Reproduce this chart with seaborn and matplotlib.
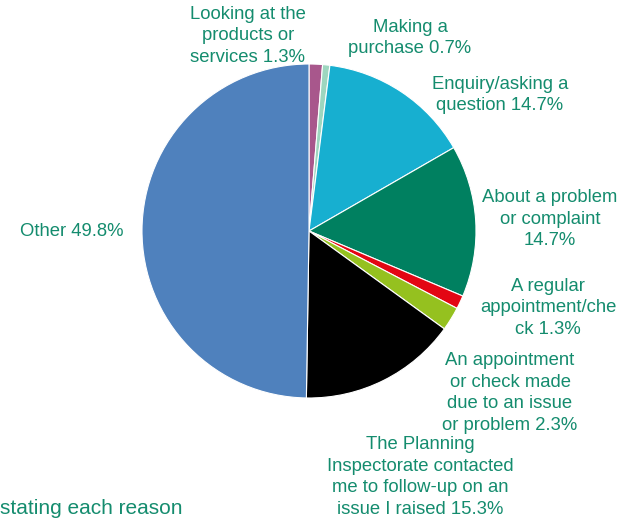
import matplotlib
matplotlib.use("Agg")
import matplotlib.pyplot as plt
import seaborn as sns

# Reasons for contact and share of respondents
labels = [
    "Looking at the\nproducts or\nservices 1.3%",
    "Making a\npurchase 0.7%",
    "Enquiry/asking a\nquestion 14.7%",
    "About a problem\nor complaint\n14.7%",
    "A regular\nappointment/che\nck 1.3%",
    "An appointment\nor check made\ndue to an issue\nor problem 2.3%",
    "The Planning\nInspectorate contacted\nme to follow-up on an\nissue I raised 15.3%",
    "Other 49.8%",
]
shares = [1.3, 0.7, 14.7, 14.7, 1.3, 2.3, 15.3, 49.8]
colors = ["#a8578c", "#9dd6bf", "#17afd0", "#008060",
          "#e30613", "#95c11f", "#000000", "#4f81bd"]

# Label anchor points in figure pixels (x from left, y from top)
label_xy = [(248, 36), (410, 38), (500, 95), (550, 219),
            (548, 308), (510, 393), (420, 477), (72, 231)]

sns.set_theme(style="white")
plt.rcParams["font.family"] = ["Liberation Sans", "DejaVu Sans"]

W, H = 639, 520
fig = plt.figure(figsize=(W / 100, H / 100), dpi=100)
ax = fig.add_axes([0, 0, 1, 1])

text_color = "#148c6e"

ax.pie(shares, colors=colors, startangle=90, counterclock=False,
       center=(309, H - 231), radius=167, frame=True,
       wedgeprops=dict(edgecolor="white", linewidth=0.8))
ax.set_xlim(0, W)
ax.set_ylim(0, H)
ax.set_aspect("equal")
ax.set_axis_off()

for text, (x, y) in zip(labels, label_xy):
    ax.text(x, H - y, text, ha="center", va="center", fontsize=13.3,
            color=text_color, linespacing=1.37)

ax.text(0, H - 508, "stating each reason", ha="left", va="center",
        fontsize=15, color=text_color)

fig.savefig("out.png", dpi=100)
